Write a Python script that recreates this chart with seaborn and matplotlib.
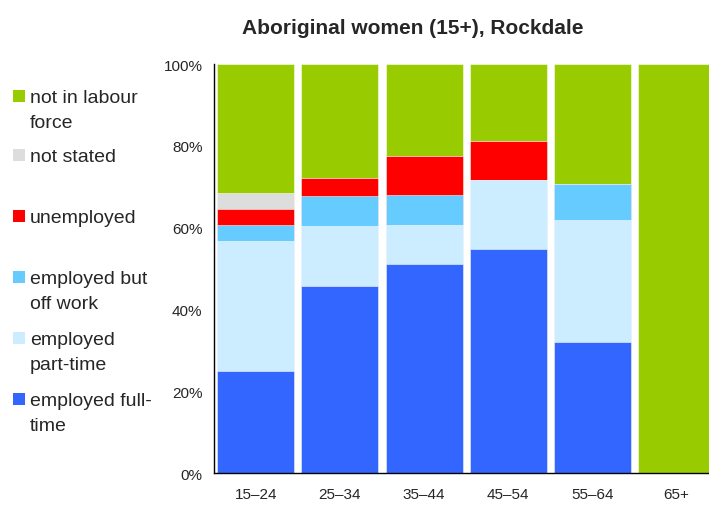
import matplotlib
matplotlib.use("Agg")
import matplotlib.pyplot as plt
from matplotlib.patches import Rectangle
import seaborn as sns
import pandas as pd
import numpy as np

# values, percent of each age group
age_groups = ["15–24", "25–34", "35–44", "45–54", "55–64", "65+"]
full_time = [24.9, 45.8, 51.0, 54.8, 32.1, 0.0]
part_time = [31.8, 14.7, 9.6, 16.9, 29.8, 0.0]
off_work = [3.9, 7.3, 7.4, 0.0, 8.8, 0.0]
unemployed = [3.9, 4.4, 9.5, 9.6, 0.0, 0.0]
not_stated = [4.0, 0.0, 0.0, 0.0, 0.0, 0.0]
not_in_lf = [31.5, 27.8, 22.5, 18.7, 29.3, 100.0]

series = [
    ("employed full-\ntime", full_time, "#3366FF"),
    ("employed\npart-time", part_time, "#CCECFF"),
    ("employed but\noff work", off_work, "#66CCFF"),
    ("unemployed", unemployed, "#FF0000"),
    ("not stated", not_stated, "#DDDDDD"),
    ("not in labour\nforce", not_in_lf, "#99CC00"),
]

sns.set_style("white")
plt.rcParams["font.family"] = ["Liberation Sans", "DejaVu Sans"]

fig = plt.figure(figsize=(7.09, 5.06), dpi=100)
ax = fig.add_axes([0.3013, 0.0632, 0.7125, 0.8083])

# stacked bars: draw cumulative totals from the top layer down
df = pd.DataFrame({name: vals for name, vals, _ in series}, index=age_groups)
cum = df.cumsum(axis=1)
for name, _, color in reversed(series):
    sns.barplot(x=age_groups, y=cum[name].values, color=color, width=0.915,
                edgecolor=(1, 1, 1, 0.6), linewidth=0.6, saturation=1, ax=ax)

ax.set_xlim(-0.5, 5.5)
ax.set_ylim(0, 100)
ax.set_yticks([0, 20, 40, 60, 80, 100])
ax.set_yticklabels([f"{v}%" for v in [0, 20, 40, 60, 80, 100]])
ax.set_xticks(np.arange(6))
ax.set_xticklabels(age_groups)
ax.set_xticks(np.arange(-0.5, 6, 1), minor=True)
ax.tick_params(axis="x", which="major", length=0, labelsize=11, pad=10)
ax.tick_params(axis="x", which="minor", length=5, width=1, color="black", direction="out")
ax.tick_params(axis="y", length=5, width=1, color="#999999", labelsize=11, pad=3, direction="out")
sns.despine(ax=ax)
for s in ["left", "bottom"]:
    ax.spines[s].set_color("black")
    ax.spines[s].set_linewidth(1)

fig.text(413 / 709, 1 - 28 / 506, "Aboriginal women (15+), Rockdale",
         ha="center", va="center", fontsize=15, fontweight="bold")

# legend on the left, top entry first
legend_rows = [97, 156, 217, 278, 339, 400]
W, H = 709, 506
for (name, _, color), y in zip(reversed(series), legend_rows):
    fig.patches.append(Rectangle((13 / W, 1 - (y + 6) / H), 12 / W, 12 / H,
                                 transform=fig.transFigure, facecolor=color,
                                 edgecolor="none"))
    fig.text(30 / W, 1 - (y - 7) / H, name, ha="left", va="top",
             fontsize=14, linespacing=1.6)

fig.savefig("out.png", dpi=100)
